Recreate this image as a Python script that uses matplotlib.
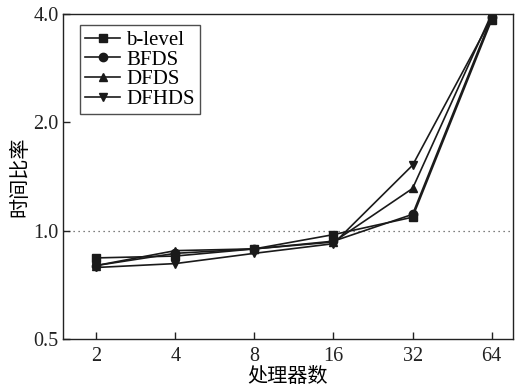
import matplotlib
matplotlib.use("Agg")
from matplotlib import pyplot as plt
from matplotlib.ticker import FixedLocator, NullLocator

plt.rcParams["font.family"] = ["Liberation Serif", "Noto Sans CJK SC"]
plt.rcParams["font.size"] = 12

# processor counts on the x axis
processors = ["2", "4", "8", "16", "32", "64"]

# time ratio per scheduling algorithm
b_level = [0.84, 0.85, 0.89, 0.975, 1.09, 3.85]
bfds = [0.80, 0.865, 0.89, 0.935, 1.11, 3.92]
dfds = [0.80, 0.88, 0.89, 0.93, 1.31, 4.00]
dfhds = [0.79, 0.81, 0.865, 0.92, 1.52, 3.90]

series = [
    ("b-level", b_level, "s"),
    ("BFDS", bfds, "o"),
    ("DFDS", dfds, "^"),
    ("DFHDS", dfhds, "v"),
]

fig = plt.figure(figsize=(5.32, 3.86), dpi=100)
ax = fig.add_axes([0.1184, 0.1218, 0.8459, 0.8419])

x = list(range(len(processors)))
for label, values, marker in series:
    ax.plot(x, values, color="#1a1a1a", lw=1.2, marker=marker, markersize=6,
            label=label)

ax.axhline(1.0, color="#555555", lw=0.9, ls=(0, (1, 3)), zorder=0)

ax.set_yscale("log", base=2)
ax.set_ylim(0.5, 4.0)
ax.yaxis.set_major_locator(FixedLocator([0.5, 1.0, 2.0, 4.0]))
ax.yaxis.set_minor_locator(NullLocator())
ax.set_yticklabels(["0.5", "1.0", "2.0", "4.0"])

ax.set_xlim(-0.42, 5.27)
ax.set_xticks(x)
ax.set_xticklabels(processors)

ax.tick_params(direction="in", length=5, width=1, colors="#222222", labelsize=14.5)
ax.tick_params(axis="x", pad=6)
ax.tick_params(axis="y", pad=3)
for spine in ax.spines.values():
    spine.set_linewidth(1.0)
    spine.set_color("#222222")

ax.set_xlabel("处理器数", fontsize=14.5, labelpad=1)
ax.set_ylabel("时间比率", fontsize=14.5, labelpad=2)

leg = ax.legend(loc="upper left", bbox_to_anchor=(0.037, 0.965), fontsize=15,
                frameon=True, fancybox=False, edgecolor="#222222",
                handlelength=1.7, handletextpad=0.3, labelspacing=0.0,
                borderpad=0.25, borderaxespad=0)
leg.get_frame().set_linewidth(1.0)

fig.savefig("out.png", dpi=100)
